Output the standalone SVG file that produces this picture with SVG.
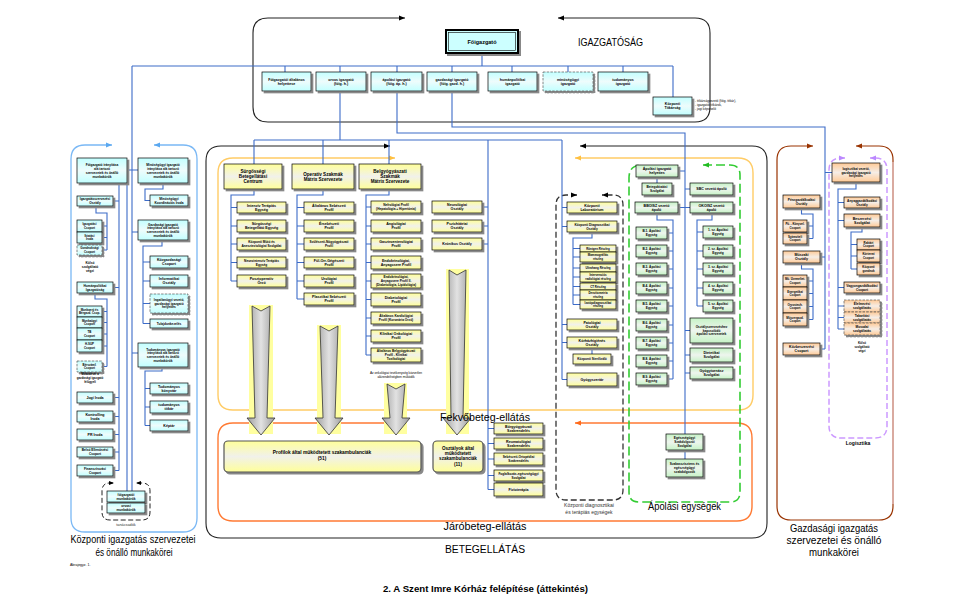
<svg xmlns="http://www.w3.org/2000/svg" width="962" height="608" viewBox="0 0 962 608">
<defs>
<linearGradient id="gc" x1="0" y1="0" x2="0" y2="1"><stop offset="0" stop-color="#c2ffff"/><stop offset=".5" stop-color="#eefcfc"/><stop offset="1" stop-color="#c2ffff"/></linearGradient>
<linearGradient id="gy" x1="0" y1="0" x2="0" y2="1"><stop offset="0" stop-color="#ffff99"/><stop offset=".5" stop-color="#f1f1ea"/><stop offset="1" stop-color="#ffff99"/></linearGradient>
<linearGradient id="gg" x1="0" y1="0" x2="0" y2="1"><stop offset="0" stop-color="#c6f3c6"/><stop offset=".5" stop-color="#eef5ee"/><stop offset="1" stop-color="#c6f3c6"/></linearGradient>
<linearGradient id="go" x1="0" y1="0" x2="0" y2="1"><stop offset="0" stop-color="#ffca96"/><stop offset=".5" stop-color="#f5ede6"/><stop offset="1" stop-color="#ffca96"/></linearGradient>
<linearGradient id="ga" x1="0" y1="0" x2="1" y2="0"><stop offset="0" stop-color="#9c9c9c"/><stop offset=".5" stop-color="#e2e2e2"/><stop offset="1" stop-color="#9c9c9c"/></linearGradient>
<filter id="ds" x="-20%" y="-20%" width="160%" height="160%"><feDropShadow dx="2" dy="2" stdDeviation="0.3" flood-color="#888" flood-opacity="1"/></filter>
<style>
.b{stroke:#000;stroke-width:.7;filter:url(#ds)}
.cy{fill:url(#gc)}.ye{fill:url(#gy)}.gr{fill:url(#gg)}.or{fill:url(#go)}
.d{stroke-dasharray:2.5 1.2;stroke:#555}
.t{font-family:"Liberation Sans",Arial,sans-serif;font-weight:700;font-size:3.6px;text-anchor:middle;fill:#000}
.s{font-size:3.2px}.xs{font-size:2.9px}
.h{font-size:4.6px}
.c{fill:none;stroke:#3d6cc8;stroke-width:1.1}
.l{font-family:"Liberation Sans",Arial,sans-serif;text-anchor:middle;fill:#000}
.band{fill:#ffffa0}
.arw{fill:url(#ga);stroke:#333;stroke-width:.8}
</style>
</defs>
<rect width="962" height="608" fill="#fff"/>

<g id="containers" fill="none">
<path d="M405,18H268Q253,18 253,33V107Q253,122 268,122H695Q710,122 710,107V33Q710,18 695,18H558" stroke="#222" stroke-width="1.1"/>
<polygon points="399,15.5 405,18 399,20.5" fill="#000"/><polygon points="564,15.5 558,18 564,20.5" fill="#000"/>
<path d="M112,145H85Q71,145 71,159V518Q71,532 85,532H183Q197,532 197,518V159Q197,145 183,145H154" stroke="#7ab8f5" stroke-width="1.3"/>
<polygon points="106,142.5 112,145 106,147.5" fill="#5aa8f0"/><polygon points="160,142.5 154,145 160,147.5" fill="#5aa8f0"/>
<path d="M113,483H110Q102,483 102,491V512Q102,520 110,520H142Q150,520 150,512V491Q150,483 142,483H137" stroke="#222" stroke-width="1" stroke-dasharray="5 2.5"/>
<polygon points="109,481 114,483 109,485" fill="#000"/><polygon points="141,481 136,483 141,485" fill="#000"/>
<path d="M390,146H221Q206,146 206,161V523Q206,538 221,538H752Q767,538 767,523V161Q767,146 752,146H580" stroke="#222" stroke-width="1.1"/>
<polygon points="384,143.5 390,146 384,148.5" fill="#000"/><polygon points="586,143.5 580,146 586,148.5" fill="#000"/>
<path d="M395,158H233Q218,158 218,173V395Q218,410 233,410H738Q753,410 753,395V173Q753,158 738,158H575" stroke="#ffcc66" stroke-width="1.4"/>
<polygon points="389,155.5 395,158 389,160.5" fill="#ffc040"/><polygon points="581,155.5 575,158 581,160.5" fill="#ffc040"/>
<path d="M395,423H233Q218,423 218,438V506Q218,521 233,521H737Q752,521 752,506V438Q752,423 737,423H575" stroke="#ff7a33" stroke-width="1.4"/>
<polygon points="581,420.5 575,423 581,425.5" fill="#ff6a1a"/>
<path d="M577,195H566Q556,195 556,205V490Q556,500 566,500H613Q623,500 623,490V205Q623,195 613,195H602" stroke="#333" stroke-width="1.3" stroke-dasharray="6 3"/>
<polygon points="571,192.5 577,195 571,197.5" fill="#000"/><polygon points="608,192.5 602,195 608,197.5" fill="#000"/>
<path d="M703,165H730Q740,165 740,175V492Q740,502 730,502H639Q629,502 629,492V178Q629,165 642,165" stroke="#33cc33" stroke-width="1.6" stroke-dasharray="9 4"/>
<polygon points="709,162.5 703,165 709,167.5" fill="#22bb22"/>
<path d="M813,146H791Q777,146 777,160V506Q777,520 791,520H879Q893,520 893,506V160Q893,146 879,146H856" stroke="#993300" stroke-width="1.2"/>
<path d="M893,162V504" stroke="#d9aaa0" stroke-width="2"/>
<polygon points="807,143.5 813,146 807,148.5" fill="#993300"/><polygon points="862,143.5 856,146 862,148.5" fill="#993300"/>
<path d="M845,158H841Q829,158 829,170V426Q829,438 841,438H875Q887,438 887,426V170Q887,158 875,158H870" stroke="#cc99ff" stroke-width="1.5" stroke-dasharray="6 3"/>
<polygon points="839,155.5 845,158 839,160.5" fill="#bb88ff"/><polygon points="876,155.5 870,158 876,160.5" fill="#bb88ff"/>
</g>

<g id="flow-arrows">
<rect class="band" x="249" y="305" width="24" height="129"/>
<rect class="band" x="317" y="325" width="24" height="109"/>
<rect class="band" x="384" y="383" width="23" height="51"/>
<rect class="band" x="446" y="269" width="23" height="165"/>
<path class="arw" d="M252,306L261,311L270,306L267,418L275,418L261,435L247,418L255,418Z"/>
<path class="arw" d="M320,326L329,331L338,326L335,418L343,418L329,435L315,418L323,418Z"/>
<path class="arw" d="M387,384L396,389L405,384L402,418L410,418L396,435L382,418L390,418Z"/>
<path class="arw" d="M449,270L457,275L466,270L463,418L471,418L457,435L443,418L451,418Z"/>
</g>

<g id="connectors" class="c">
<path d="M132,66H673M482,53V66M285,66V72M340,66V72M397,66V72M452,66V72M512,66V72M568,66V72M623,66V72M673,66V97"/>
<path d="M340,91V140M254,140H562M254,140V164M323,140V164M389,140V164M488,140V489.5M562,140V379.5"/>
<path d="M397,91V133H685V434M452,91V127H825V349"/>
<path d="M132,66V491M127,170H138M119,183V470.5M127,183V491M113,201H119M113,287.5H119M113,397.5H119M113,416.5H119M113,434.5H119M113,452H119M113,470.5H119"/>
<path d="M96,206V213H107V250M102,226H107M102,237.5H107M102,250H107"/>
<path d="M95,293V299H107V366.5M102,311.5H107M102,322.5H107M102,334H107M102,346H107M102,366.5H107"/>
<path d="M163,183V189H145V200.5H150M132,232H138M162,240V246H143V323.5M143,262H150M143,281H150M143,303.5H150M143,323.5H150"/>
<path d="M132,353H138M162,367V371H145V425.5M145,388.5H150M145,407H150M145,425.5H150"/>
<path d="M254,189V195H231V281M231,207.5H237M231,226H237M231,244H237M231,262.5H237M231,281H237"/>
<path d="M323,189V195H297V299M297,207.5H304M297,226H304M297,244H304M297,262.5H304M297,281H304M297,299H304"/>
<path d="M389,189V195H366V355M366,207H371M366,226H371M366,244H371M366,262.5H371M366,281H371M366,299.5H371M366,318H371M366,336H371M366,355H371"/>
<path d="M482,207H488M482,226H488M482,244H488M488,428.5H494M488,443.5H494M488,459H494M488,475.5H494M488,489.5H494"/>
<path d="M562,207.5H567M562,226.5H567M562,324.5H567M562,342.5H567M562,379.5H567M592,232V238H573V304.5M573,248.5H580M573,257H580M573,268H580M573,277H580M573,286.5H580M573,295H580M573,304.5H580M592,348V354"/>
<path d="M678,171H685M657,177V183M685,189H690M678,207.5H690M657,213V220H673V379M667,233H673M667,251H673M667,269H673M667,288H673M667,306H673M667,325H673M667,343H673M667,361H673M667,379H673"/>
<path d="M712,213V220H697V306M697,232H703M697,251H703M697,269H703M697,288H703M697,306H703M685,330.5H690M685,355H690M685,373H690M685,450V459"/>
<path d="M825,172.5H832M856,182V189H838V329M838,202.5H844M838,220.5H844M838,287.5H844M838,306H844M838,317.5H844M838,329H844M862,227V232H851V269M851,244.5H857M851,256H857M851,269H857"/>
<path d="M801.5,208V214H813V238.5M807,226H813M807,238.5H813M820,257H825M801.5,263V269H813V319.5M807,281H813M807,293.5H813M807,306.5H813M807,319.5H813M820,349H825"/>
</g>

<g id="igazgatosag">
<g id="n-foigazgato"><rect x="446" y="30" width="72" height="23" fill="#ccffff" stroke="#000" stroke-width="2" filter="url(#ds)"/><rect x="448.5" y="32.5" width="67" height="18" fill="none" stroke="#000" stroke-width=".6"/><text class="t" x="482" y="43.5" style="font-size:5.5px">Főigazgató</text></g>
<g id="n-foig-helyettes"><rect class="b cy" x="262" y="72" width="49" height="19"/><text class="t"><tspan x="286.5" y="80.6">Főigazgatói általános</tspan><tspan x="286.5" y="85">helyettese</tspan></text></g>
<g id="n-orvos-ig"><rect class="b cy" x="316" y="72" width="50" height="19"/><text class="t"><tspan x="341" y="80.6">orvos igazgató</tspan><tspan x="341" y="85">(főig. h.)</tspan></text></g>
<g id="n-apolasi-ig"><rect class="b cy" x="371" y="72" width="51" height="19"/><text class="t"><tspan x="396.5" y="80.6">ápolási igazgató</tspan><tspan x="396.5" y="85">(főig. áp. h.)</tspan></text></g>
<g id="n-gazd-ig"><rect class="b cy" x="427" y="72" width="50" height="19"/><text class="t"><tspan x="452" y="80.6">gazdasági igazgató</tspan><tspan x="452" y="85">(főig. gazd. h.)</tspan></text></g>
<g id="n-human-ig"><rect class="b cy" x="488" y="72" width="49" height="19"/><text class="t"><tspan x="512.5" y="80.6">humánpolitikai</tspan><tspan x="512.5" y="85">igazgató</tspan></text></g>
<g id="n-minoseg-ig"><rect class="b cy d" x="543" y="72" width="50" height="19" stroke-width="1.2"/><text class="t"><tspan x="568" y="80.6">minőségügyi</tspan><tspan x="568" y="85">igazgató</tspan></text></g>
<g id="n-tud-ig"><rect class="b cy" x="598" y="72" width="50" height="19"/><text class="t"><tspan x="623" y="80.6">tudományos</tspan><tspan x="623" y="85">igazgató</tspan></text></g>
<g id="n-titkarsag"><rect class="b cy" x="653" y="97" width="39" height="18"/><text class="t"><tspan x="672.5" y="105">Központi</tspan><tspan x="672.5" y="109.4">Titkárság</tspan></text>
<text style="font-family:'Liberation Sans',Arial,sans-serif;font-size:3.2px"><tspan x="695" y="102">- titkárságvezető (főig. titkár),</tspan><tspan x="695" y="106">- igazgatói titkárok,</tspan><tspan x="695" y="110">- jogi képviselő</tspan></text></g>
<text class="l" x="610.5" y="46" style="font-size:10.5px" textLength="65" lengthAdjust="spacingAndGlyphs">IGAZGATÓSÁG</text>
</g>

<g id="kozponti-igazgatas">
<g id="n-foig-ala"><rect class="b cy" x="77" y="158" width="50" height="25"/><text class="t s"><tspan x="102" y="165.6">Főigazgató irányítása</tspan><tspan x="102" y="169.7">alá tartozó</tspan><tspan x="102" y="173.8">szervezetek és önálló</tspan><tspan x="102" y="177.9">munkakörök</tspan></text></g>
<g id="n-minoseg-ala"><rect class="b cy" x="138" y="158" width="50" height="25"/><text class="t s"><tspan x="163" y="165.6">Minőségügyi igazgató</tspan><tspan x="163" y="169.7">irányítása alá tartozó</tspan><tspan x="163" y="173.8">szervezetek és önálló</tspan><tspan x="163" y="177.9">munkakörök</tspan></text></g>
<g id="n-igszerv"><rect class="b cy" x="77" y="196" width="36" height="10"/><text class="t s"><tspan x="95" y="200.3">Igazgatásszervezési</tspan><tspan x="95" y="204">Osztály</tspan></text></g>
<g id="n-igcsop"><rect class="b cy" x="77" y="220" width="25" height="12"/><text class="t xs"><tspan x="89.5" y="225.3">Igazgatási</tspan><tspan x="89.5" y="228.7">Csoport</tspan></text></g>
<g id="n-iktato"><rect class="b cy" x="77" y="232" width="25" height="11"/><text class="t xs"><tspan x="89.5" y="236.8">Iktatási</tspan><tspan x="89.5" y="240.2">Iroda</tspan></text></g>
<g id="n-gondnok"><rect class="b cy d" x="77" y="245" width="25" height="10"/><text class="t xs"><tspan x="89.5" y="249.3">Gondnoksági</tspan><tspan x="89.5" y="252.7">Csoport</tspan></text></g>
<text class="t s"><tspan x="90" y="264">Külső</tspan><tspan x="90" y="268.2">szolgáltató</tspan><tspan x="90" y="272.4">végzi</tspan></text>
<g id="n-humig"><rect class="b cy" x="77" y="282" width="36" height="11"/><text class="t s"><tspan x="95" y="286.8">Humánpolitikai</tspan><tspan x="95" y="290.5">Igazgatóság</tspan></text></g>
<g id="n-munkaero"><rect class="b cy" x="77" y="306" width="25" height="11"/><text class="t xs"><tspan x="89.5" y="310.8">Munkaerő és</tspan><tspan x="89.5" y="314.2">Bérgazd. Csop.</tspan></text></g>
<g id="n-munkaugy"><rect class="b cy" x="77" y="317" width="25" height="11"/><text class="t xs"><tspan x="89.5" y="321.8">Munkaügyi</tspan><tspan x="89.5" y="325.2">Csoport</tspan></text></g>
<g id="n-tb"><rect class="b cy" x="77" y="328" width="25" height="12"/><text class="t xs"><tspan x="89.5" y="333.3">TB</tspan><tspan x="89.5" y="336.7">Csoport</tspan></text></g>
<g id="n-hsup"><rect class="b cy" x="77" y="340" width="25" height="12"/><text class="t xs"><tspan x="89.5" y="345.3">H-SUP</tspan><tspan x="89.5" y="348.7">Csoport</tspan></text></g>
<g id="n-berszam"><rect class="b cy d" x="77" y="361" width="25" height="11"/><text class="t xs"><tspan x="89.5" y="365.8">Bérszámf.</tspan><tspan x="89.5" y="369.2">Csoport</tspan></text></g>
<text class="t xs"><tspan x="90" y="375">Működését a</tspan><tspan x="90" y="379">gazdasági igazgató</tspan><tspan x="90" y="383">felügyeli</tspan></text>
<g id="n-jogi"><rect class="b cy" x="77" y="392" width="36" height="11"/><text class="t" x="95" y="398.8">Jogi Iroda</text></g>
<g id="n-kontrolling"><rect class="b cy" x="77" y="411" width="36" height="11"/><text class="t"><tspan x="95" y="415.7">Kontrolling</tspan><tspan x="95" y="419.8">Iroda</tspan></text></g>
<g id="n-pr"><rect class="b cy" x="77" y="429" width="36" height="11"/><text class="t" x="95" y="435.8">PR Iroda</text></g>
<g id="n-belso"><rect class="b cy" x="77" y="447" width="36" height="10"/><text class="t s"><tspan x="95" y="451.3">Belső Ellenőrzési</tspan><tspan x="95" y="455">Csoport</tspan></text></g>
<g id="n-finansz"><rect class="b cy" x="77" y="465" width="36" height="11"/><text class="t s"><tspan x="95" y="469.8">Finanszírozási</tspan><tspan x="95" y="473.5">Csoport</tspan></text></g>
<g id="n-munkakor1"><rect class="b cy" x="107" y="491" width="38" height="11"/><text class="t s"><tspan x="126" y="495.8">főigazgatói</tspan><tspan x="126" y="499.5">munkakörök</tspan></text></g>
<g id="n-munkakor2"><rect class="b cy" x="107" y="503" width="38" height="10"/><text class="t s"><tspan x="126" y="507.3">orvosi</tspan><tspan x="126" y="511">munkakörök</tspan></text></g>
<text class="l" x="126" y="526" style="font-size:3.8px;fill:#333">tanácsadók</text>
<g id="n-minkoord"><rect class="b cy" x="150" y="195" width="38" height="11"/><text class="t s"><tspan x="169" y="199.8">Minőségügyi</tspan><tspan x="169" y="203.5">Koordinációs Iroda</tspan></text></g>
<g id="n-gazd-ala"><rect class="b cy" x="138" y="220" width="50" height="20"/><text class="t s"><tspan x="163" y="225.6">Gazdasági igazgató</tspan><tspan x="163" y="229.3">irányítása alá tartozó</tspan><tspan x="163" y="233">szervezetek és önálló</tspan><tspan x="163" y="236.7">munkakörök</tspan></text></g>
<g id="n-kozgazd"><rect class="b cy" x="150" y="256" width="38" height="12"/><text class="t"><tspan x="169" y="261.2">Közgazdasági</tspan><tspan x="169" y="265.3">Csoport</tspan></text></g>
<g id="n-informatika"><rect class="b cy" x="150" y="275" width="38" height="12"/><text class="t"><tspan x="169" y="280.2">Informatikai</tspan><tspan x="169" y="284.3">Osztály</tspan></text></g>
<g id="n-ingatlan"><rect class="b cy d" x="150" y="294" width="38" height="19"/><text class="t s"><tspan x="169" y="300.9">Ingatlanügyi vezető,</tspan><tspan x="169" y="304.6">gazdasági igazgató</tspan><tspan x="169" y="308.3">helyettes</tspan></text></g>
<g id="n-tulajdon"><rect class="b cy" x="150" y="319" width="38" height="9"/><text class="t s" x="169" y="324.6">Tulajdonkezelés</text></g>
<g id="n-tud-ala"><rect class="b cy" x="138" y="343" width="50" height="24"/><text class="t s"><tspan x="163" y="350.6">Tudományos igazgató</tspan><tspan x="163" y="354.3">irányítása alá tartozó</tspan><tspan x="163" y="358">szervezetek és önálló</tspan><tspan x="163" y="361.7">munkakörök</tspan></text></g>
<g id="n-tudkonyv"><rect class="b cy" x="150" y="383" width="38" height="11"/><text class="t"><tspan x="169" y="387.7">Tudományos</tspan><tspan x="169" y="391.8">könyvtár</tspan></text></g>
<g id="n-tudtitkar"><rect class="b cy" x="150" y="401" width="38" height="12"/><text class="t"><tspan x="169" y="406.2">tudományos</tspan><tspan x="169" y="410.3">titkár</tspan></text></g>
<g id="n-keptar"><rect class="b cy" x="150" y="420" width="38" height="11"/><text class="t" x="169" y="426.8">Képtár</text></g>
<text class="l" x="133" y="543" style="font-size:10px" textLength="125" lengthAdjust="spacingAndGlyphs">Központi igazgatás szervezetei</text>
<text class="l" x="134" y="556" style="font-size:10px" textLength="77" lengthAdjust="spacingAndGlyphs">és önálló munkakörei</text>
<text x="70" y="566" style="font-family:'Liberation Sans',Arial,sans-serif;font-size:3.5px">Ábrajegyz. 1.</text>
</g>

<g id="betegellatas">
<g id="n-surgossegi"><rect class="b ye" x="224" y="164" width="58" height="25"/><text class="t h"><tspan x="253" y="172.8">Sürgősségi</tspan><tspan x="253" y="178.1">Betegellátási</tspan><tspan x="253" y="183.4">Centrum</tspan></text></g>
<g id="n-intenziv"><rect class="b ye" x="237" y="202" width="49" height="11"/><text class="t"><tspan x="261.5" y="206.7">Intenzív Terápiás</tspan><tspan x="261.5" y="210.8">Egység</tspan></text></g>
<g id="n-sbe"><rect class="b ye" x="237" y="220" width="49" height="12"/><text class="t"><tspan x="261.5" y="225.2">Sürgősségi</tspan><tspan x="261.5" y="229.3">Betegellátó Egység</tspan></text></g>
<g id="n-muto"><rect class="b ye" x="237" y="238" width="49" height="12"/><text class="t s"><tspan x="261.5" y="243.3">Központi Műtő és</tspan><tspan x="261.5" y="247">Aneszteziológiai Szolgálat</tspan></text></g>
<g id="n-neurointenziv"><rect class="b ye" x="237" y="257" width="49" height="11"/><text class="t s"><tspan x="261.5" y="261.8">Neurointenzív Terápiás</tspan><tspan x="261.5" y="265.5">Egység</tspan></text></g>
<g id="n-posztop"><rect class="b ye" x="237" y="275" width="49" height="12"/><text class="t"><tspan x="261.5" y="280.2">Posztoperatív</tspan><tspan x="261.5" y="284.3">Őrző</tspan></text></g>

<g id="n-operativ"><rect class="b ye" x="292" y="164" width="62" height="25"/><text class="t h"><tspan x="323" y="175.5">Operatív Szakmák</tspan><tspan x="323" y="180.8">Mátrix Szervezete</tspan></text></g>
<g id="n-altseb"><rect class="b ye" x="304" y="202" width="50" height="11"/><text class="t"><tspan x="329" y="206.7">Általános Sebészeti</tspan><tspan x="329" y="210.8">Profil</tspan></text></g>
<g id="n-erseb"><rect class="b ye" x="304" y="220" width="50" height="12"/><text class="t"><tspan x="329" y="225.2">Érsebészeti</tspan><tspan x="329" y="229.3">Profil</tspan></text></g>
<g id="n-szules"><rect class="b ye" x="304" y="238" width="50" height="12"/><text class="t s"><tspan x="329" y="243.3">Szülészeti-Nőgyógyászati</tspan><tspan x="329" y="247">Profil</tspan></text></g>
<g id="n-fog"><rect class="b ye" x="304" y="257" width="50" height="11"/><text class="t"><tspan x="329" y="261.7">Fül-Orr-Gégészeti</tspan><tspan x="329" y="265.8">Profil</tspan></text></g>
<g id="n-urologia"><rect class="b ye" x="304" y="275" width="50" height="12"/><text class="t"><tspan x="329" y="280.2">Urológiai</tspan><tspan x="329" y="284.3">Profil</tspan></text></g>
<g id="n-plasztikai"><rect class="b ye" x="304" y="293" width="50" height="12"/><text class="t"><tspan x="329" y="298.2">Plasztikai Sebészeti</tspan><tspan x="329" y="302.3">Profil</tspan></text></g>

<g id="n-belgyogy"><rect class="b ye" x="359" y="164" width="62" height="25"/><text class="t h"><tspan x="390" y="172.8">Belgyógyászati</tspan><tspan x="390" y="178.1">Szakmák</tspan><tspan x="390" y="183.4">Mátrix Szervezete</tspan></text></g>
<g id="n-nefro"><rect class="b ye" x="371" y="201" width="50" height="12"/><text class="t s"><tspan x="396" y="206.3">Nefrológiai Profil</tspan><tspan x="396" y="210">(Hepatológia + Hipertónia)</tspan></text></g>
<g id="n-angio"><rect class="b ye" x="371" y="220" width="50" height="12"/><text class="t"><tspan x="396" y="225.2">Angiológiai</tspan><tspan x="396" y="229.3">Profil</tspan></text></g>
<g id="n-gasztro"><rect class="b ye" x="371" y="238" width="50" height="12"/><text class="t"><tspan x="396" y="243.2">Gasztroenterológiai</tspan><tspan x="396" y="247.3">Profil</tspan></text></g>
<g id="n-endo1"><rect class="b ye" x="371" y="256" width="50" height="13"/><text class="t"><tspan x="396" y="261.7">Endokrinológiai,</tspan><tspan x="396" y="265.8">Anyagcsere Profil</tspan></text></g>
<g id="n-endo2"><rect class="b ye" x="371" y="274" width="50" height="14"/><text class="t s"><tspan x="396" y="278.4">Endokrinológiai,</tspan><tspan x="396" y="282.1">Anyagcsere Profil II.</tspan><tspan x="396" y="285.8">(Diabetológia, Lipidológia)</tspan></text></g>
<g id="n-diab"><rect class="b ye" x="371" y="293" width="50" height="13"/><text class="t"><tspan x="396" y="298.7">Diabetológiai</tspan><tspan x="396" y="302.8">Profil</tspan></text></g>
<g id="n-kardio"><rect class="b ye" x="371" y="312" width="50" height="12"/><text class="t s"><tspan x="396" y="317.3">Általános Kardiológiai</tspan><tspan x="396" y="321">Profil (Koronária Őrző)</tspan></text></g>
<g id="n-onko"><rect class="b ye" x="371" y="330" width="50" height="12"/><text class="t"><tspan x="396" y="335.2">Klinikai Onkológiai</tspan><tspan x="396" y="339.3">Profil</tspan></text></g>
<g id="n-altbel"><rect class="b ye" x="371" y="348" width="50" height="14"/><text class="t s"><tspan x="396" y="352.4">Általános Belgyógyászati</tspan><tspan x="396" y="356.1">Profil - Klinikai</tspan><tspan x="396" y="359.8">Toxikológiai</tspan></text></g>
<text class="l" style="font-size:3.2px"><tspan x="396" y="374">Az onkológiai tevékenység közvetlen</tspan><tspan x="396" y="378.2">alárendeltségben működik</tspan></text>

<g id="n-neuro"><rect class="b ye" x="432" y="201" width="50" height="12"/><text class="t"><tspan x="457" y="206.2">Neurológiai</tspan><tspan x="457" y="210.3">Osztály</tspan></text></g>
<g id="n-pszich"><rect class="b ye" x="432" y="220" width="50" height="12"/><text class="t"><tspan x="457" y="225.2">Pszichiátriai</tspan><tspan x="457" y="229.3">Osztály</tspan></text></g>
<g id="n-kronikus"><rect class="b ye" x="432" y="238" width="50" height="12"/><text class="t" x="457" y="245.3">Krónikus Osztály</text></g>

<g id="n-profilok-amb"><rect x="224" y="441" width="197" height="31" rx="4" fill="url(#gy)" stroke="#555" stroke-width="1.2" filter="url(#ds)"/><text class="t" style="font-size:4.8px"><tspan x="322" y="454">Profilok által működtetett szakambulanciák</tspan><tspan x="322" y="460">(51)</tspan></text></g>
<g id="n-osztalyok-amb"><rect x="433" y="441" width="50" height="31" rx="4" fill="url(#gy)" stroke="#555" stroke-width="1.2" filter="url(#ds)"/><text class="t" style="font-size:4.6px"><tspan x="458" y="449.5">Osztályok által</tspan><tspan x="458" y="454.9">működtetett</tspan><tspan x="458" y="460.3">szakambulanciák</tspan><tspan x="458" y="465.7">(11)</tspan></text></g>

<g id="n-borgy"><rect class="b ye" x="494" y="423" width="49" height="11"/><text class="t"><tspan x="518.5" y="427.7">Bőrgyógyászati</tspan><tspan x="518.5" y="431.8">Szakrendelés</tspan></text></g>
<g id="n-reuma"><rect class="b ye" x="494" y="438" width="49" height="11"/><text class="t"><tspan x="518.5" y="442.7">Reumatológiai</tspan><tspan x="518.5" y="446.8">Szakrendelés</tspan></text></g>
<g id="n-sebort"><rect class="b ye" x="494" y="453" width="49" height="12"/><text class="t s"><tspan x="518.5" y="458.3">Sebészeti-Ortopédiai</tspan><tspan x="518.5" y="462">Szakrendelés</tspan></text></g>
<g id="n-foglalk"><rect class="b ye" x="494" y="470" width="49" height="11"/><text class="t s"><tspan x="518.5" y="474.8">Foglalkozás-egészségügyi</tspan><tspan x="518.5" y="478.5">Szolgálat</tspan></text></g>
<g id="n-fizio"><rect class="b ye" x="494" y="483" width="49" height="13"/><text class="t" x="518.5" y="490.8">Fizioterápia</text></g>

<g id="n-labor"><rect class="b ye" x="567" y="202" width="50" height="11"/><text class="t"><tspan x="592" y="206.7">Központi</tspan><tspan x="592" y="210.8">Laboratórium</tspan></text></g>
<g id="n-diag"><rect class="b ye" x="567" y="221" width="50" height="11"/><text class="t s"><tspan x="592" y="225.8">Központi Diagnosztikai</tspan><tspan x="592" y="229.5">Osztály</tspan></text></g>
<g id="n-rtg"><rect class="b ye" x="580" y="245" width="36" height="7"/><text class="t xs" x="598" y="249.5">Röntgen Részleg</text></g>
<g id="n-mammo"><rect class="b ye" x="580" y="252" width="36" height="10"/><text class="t xs"><tspan x="598" y="256.3">Mammográfiás</tspan><tspan x="598" y="259.7">részleg</tspan></text></g>
<g id="n-uh"><rect class="b ye" x="580" y="264" width="36" height="8"/><text class="t xs" x="598" y="269">Ultrahang Részleg</text></g>
<g id="n-interv"><rect class="b ye" x="580" y="272" width="36" height="10"/><text class="t xs"><tspan x="598" y="276.3">Intervenciós</tspan><tspan x="598" y="279.7">radiológiai részleg</tspan></text></g>
<g id="n-ct"><rect class="b ye" x="580" y="283" width="36" height="7"/><text class="t xs" x="598" y="287.5">CT Részleg</text></g>
<g id="n-denz"><rect class="b ye" x="580" y="290" width="36" height="10"/><text class="t xs"><tspan x="598" y="294.3">Denzitometria</tspan><tspan x="598" y="297.7">részleg</tspan></text></g>
<g id="n-izotop"><rect class="b ye" x="580" y="300" width="36" height="9"/><text class="t xs"><tspan x="598" y="303.8">Izotópdiagnosztikai</tspan><tspan x="598" y="307.2">részleg</tspan></text></g>
<g id="n-patologia"><rect class="b ye" x="567" y="319" width="50" height="11"/><text class="t"><tspan x="592" y="323.7">Patológiai</tspan><tspan x="592" y="327.8">Osztály</tspan></text></g>
<g id="n-higienes"><rect class="b ye" x="567" y="337" width="50" height="11"/><text class="t"><tspan x="592" y="341.7">Kórházhigiénés</tspan><tspan x="592" y="345.8">Osztály</tspan></text></g>
<g id="n-steril"><rect class="b ye" x="573" y="354" width="38" height="10"/><text class="t s" x="592" y="360.1">Központi Sterilizáló</text></g>
<g id="n-gyogyszertar"><rect class="b ye" x="567" y="373" width="50" height="13"/><text class="t" x="592" y="380.8">Gyógyszertár</text></g>
<text class="l" style="font-size:5px;fill:#333"><tspan x="589" y="507">Központi diagnosztikai</tspan><tspan x="589" y="514">és terápiás egységek</tspan></text>

<g id="n-ap-helyettes"><rect class="b gr" x="636" y="165" width="42" height="12"/><text class="t"><tspan x="657" y="170.2">Ápolási igazgató</tspan><tspan x="657" y="174.3">helyettes</tspan></text></g>
<g id="n-betegokt"><rect class="b gr" x="642" y="183" width="30" height="12"/><text class="t s"><tspan x="657" y="188.3">Betegoktatási</tspan><tspan x="657" y="192">Szolgálat</tspan></text></g>
<g id="n-sbc"><rect class="b gr" x="690" y="183" width="43" height="12"/><text class="t" x="711.5" y="190.3">SBC vezető ápoló</text></g>
<g id="n-bboisz"><rect class="b gr" x="635" y="202" width="43" height="11"/><text class="t"><tspan x="656.5" y="206.7">BBOISZ vezető</tspan><tspan x="656.5" y="210.8">ápoló</tspan></text></g>
<g id="n-okoisz"><rect class="b gr" x="690" y="202" width="43" height="11"/><text class="t"><tspan x="711.5" y="206.7">OKOISZ vezető</tspan><tspan x="711.5" y="210.8">ápoló</tspan></text></g>
<g id="n-b1"><rect class="b gr" x="636" y="227" width="31" height="12"/><text class="t s"><tspan x="651.5" y="232.3">B.1. Ápolási</tspan><tspan x="651.5" y="236">Egység</tspan></text></g>
<g id="n-b2"><rect class="b gr" x="636" y="245" width="31" height="12"/><text class="t s"><tspan x="651.5" y="250.3">B.2. Ápolási</tspan><tspan x="651.5" y="254">Egység</tspan></text></g>
<g id="n-b3"><rect class="b gr" x="636" y="263" width="31" height="12"/><text class="t s"><tspan x="651.5" y="268.3">B.3. Ápolási</tspan><tspan x="651.5" y="272">Egység</tspan></text></g>
<g id="n-b4"><rect class="b gr" x="636" y="282" width="31" height="12"/><text class="t s"><tspan x="651.5" y="287.3">B.4. Ápolási</tspan><tspan x="651.5" y="291">Egység</tspan></text></g>
<g id="n-b5"><rect class="b gr" x="636" y="300" width="31" height="12"/><text class="t s"><tspan x="651.5" y="305.3">B.5. Ápolási</tspan><tspan x="651.5" y="309">Egység</tspan></text></g>
<g id="n-b6"><rect class="b gr" x="636" y="319" width="31" height="12"/><text class="t s"><tspan x="651.5" y="324.3">B.6. Ápolási</tspan><tspan x="651.5" y="328">Egység</tspan></text></g>
<g id="n-b7"><rect class="b gr" x="636" y="337" width="31" height="12"/><text class="t s"><tspan x="651.5" y="342.3">B.7. Ápolási</tspan><tspan x="651.5" y="346">Egység</tspan></text></g>
<g id="n-b8"><rect class="b gr" x="636" y="355" width="31" height="12"/><text class="t s"><tspan x="651.5" y="360.3">B.8. Ápolási</tspan><tspan x="651.5" y="364">Egység</tspan></text></g>
<g id="n-b9"><rect class="b gr" x="636" y="373" width="31" height="12"/><text class="t s"><tspan x="651.5" y="378.3">B.9. Ápolási</tspan><tspan x="651.5" y="382">Egység</tspan></text></g>
<g id="n-sz1"><rect class="b gr" x="703" y="226" width="30" height="12"/><text class="t s"><tspan x="718" y="231.3">1. sz. Ápolási</tspan><tspan x="718" y="235">Egység</tspan></text></g>
<g id="n-sz2"><rect class="b gr" x="703" y="245" width="30" height="12"/><text class="t s"><tspan x="718" y="250.3">2. sz. Ápolási</tspan><tspan x="718" y="254">Egység</tspan></text></g>
<g id="n-sz3"><rect class="b gr" x="703" y="263" width="30" height="12"/><text class="t s"><tspan x="718" y="268.3">3. sz. Ápolási</tspan><tspan x="718" y="272">Egység</tspan></text></g>
<g id="n-sz4"><rect class="b gr" x="703" y="282" width="30" height="12"/><text class="t s"><tspan x="718" y="287.3">4. sz. Ápolási</tspan><tspan x="718" y="291">Egység</tspan></text></g>
<g id="n-sz5"><rect class="b gr" x="703" y="300" width="30" height="12"/><text class="t s"><tspan x="718" y="305.3">5. sz. Ápolási</tspan><tspan x="718" y="309">Egység</tspan></text></g>
<g id="n-osztszerv"><rect class="b gr" x="690" y="318" width="43" height="25"/><text class="t s"><tspan x="711.5" y="327.9">Osztályszervezéshez</tspan><tspan x="711.5" y="331.6">kapcsolódó</tspan><tspan x="711.5" y="335.3">ápolási szervezetek</tspan></text></g>
<g id="n-dietetika"><rect class="b gr" x="690" y="348" width="43" height="14"/><text class="t"><tspan x="711.5" y="354.2">Dietetikai</tspan><tspan x="711.5" y="358.3">Szolgálat</tspan></text></g>
<g id="n-gyogytorna"><rect class="b gr" x="690" y="367" width="43" height="12"/><text class="t"><tspan x="711.5" y="372.2">Gyógytornász</tspan><tspan x="711.5" y="376.3">Szolgálat</tspan></text></g>
<g id="n-eu-szakdolg"><rect class="b gr" x="666" y="434" width="37" height="16"/><text class="t s"><tspan x="684.5" y="439.4">Egészségügyi</tspan><tspan x="684.5" y="443.1">Szakdolgozói</tspan><tspan x="684.5" y="446.8">Szolgálat</tspan></text></g>
<g id="n-szakasszisztens"><rect class="b gr" x="666" y="459" width="37" height="18"/><text class="t s"><tspan x="684.5" y="465.4">Szakasszisztens és</tspan><tspan x="684.5" y="469.1">egészségügyi</tspan><tspan x="684.5" y="472.8">szakdolgozók</tspan></text></g>
<text class="l" x="684.5" y="510" style="font-size:10px" textLength="73" lengthAdjust="spacingAndGlyphs">Ápolási egységek</text>

<text class="l" x="485" y="421" style="font-size:10.5px" textLength="90" lengthAdjust="spacingAndGlyphs">Fekvőbeteg-ellátás</text>
<text class="l" x="485" y="530" style="font-size:10px" textLength="83" lengthAdjust="spacingAndGlyphs">Járóbeteg-ellátás</text>
<text class="l" x="485" y="553" style="font-size:10px" textLength="80" lengthAdjust="spacingAndGlyphs">BETEGELLÁTÁS</text>
</g>

<g id="gazdasagi">
<g id="n-logisztikai"><rect class="b or" x="832" y="163" width="48" height="19"/><text class="t s"><tspan x="856" y="169.9">logisztikai vezető,</tspan><tspan x="856" y="173.6">gazdasági igazgató</tspan><tspan x="856" y="177.3">helyettes</tspan></text></g>
<g id="n-anyaggazd"><rect class="b or" x="844" y="197" width="36" height="11"/><text class="t s"><tspan x="862" y="201.8">Anyaggazdálkodási</tspan><tspan x="862" y="205.5">Osztály</tspan></text></g>
<g id="n-beszerzes"><rect class="b or" x="844" y="214" width="36" height="13"/><text class="t"><tspan x="862" y="219.7">Beszerzési</tspan><tspan x="862" y="223.8">Szolgálat</tspan></text></g>
<g id="n-raktar"><rect class="b or" x="857" y="239" width="23" height="11"/><text class="t xs"><tspan x="868.5" y="243.8">Raktári</tspan><tspan x="868.5" y="247.2">Csoport</tspan></text></g>
<g id="n-kortermi"><rect class="b or" x="857" y="250" width="23" height="12"/><text class="t xs"><tspan x="868.5" y="255.3">Kórtermi</tspan><tspan x="868.5" y="258.7">Csoport</tspan></text></g>
<g id="n-kpgondnok"><rect class="b or" x="857" y="263" width="23" height="12"/><text class="t xs"><tspan x="868.5" y="268.3">Központi</tspan><tspan x="868.5" y="271.7">gondnok</tspan></text></g>
<g id="n-vagyon"><rect class="b or" x="844" y="282" width="36" height="11"/><text class="t s"><tspan x="862" y="286.8">Vagyongazdálkodási</tspan><tspan x="862" y="290.5">Csoport</tspan></text></g>
<g id="n-elelmezes"><rect class="b or d" x="844" y="300" width="36" height="12"/><text class="t s"><tspan x="862" y="305.3">Élelmezési</tspan><tspan x="862" y="309">szolgáltatás</tspan></text></g>
<g id="n-takaritas"><rect class="b or d" x="844" y="312" width="36" height="11"/><text class="t s"><tspan x="862" y="316.8">Takarítási</tspan><tspan x="862" y="320.5">szolgáltatás</tspan></text></g>
<g id="n-mosoda"><rect class="b or d" x="844" y="323" width="36" height="12"/><text class="t s"><tspan x="862" y="328.3">Mosodai</tspan><tspan x="862" y="332">szolgáltatás</tspan></text></g>
<text class="t xs"><tspan x="862" y="344">Külső</tspan><tspan x="862" y="348">szolgáltató</tspan><tspan x="862" y="352">végzi</tspan></text>
<g id="n-penzgazd"><rect class="b or" x="783" y="195" width="37" height="13"/><text class="t s"><tspan x="801.5" y="200.8">Pénzgazdálkodási</tspan><tspan x="801.5" y="204.5">Osztály</tspan></text></g>
<g id="n-konyvel"><rect class="b or" x="783" y="220" width="24" height="12"/><text class="t xs"><tspan x="795" y="225.3">Pü. - Könyvel.</tspan><tspan x="795" y="228.7">Csoport</tspan></text></g>
<g id="n-szamviteli"><rect class="b or" x="783" y="233" width="24" height="11"/><text class="t xs"><tspan x="795" y="237.8">Számviteli</tspan><tspan x="795" y="241.2">Csoport</tspan></text></g>
<g id="n-muszaki"><rect class="b or" x="783" y="251" width="37" height="12"/><text class="t"><tspan x="801.5" y="256.2">Műszaki</tspan><tspan x="801.5" y="260.3">Osztály</tspan></text></g>
<g id="n-uzemelt"><rect class="b or" x="783" y="275" width="24" height="12"/><text class="t xs"><tspan x="795" y="280.3">Mű. Üzemeltet.</tspan><tspan x="795" y="283.7">Csoport</tspan></text></g>
<g id="n-energetika"><rect class="b or" x="783" y="287" width="24" height="13"/><text class="t xs"><tspan x="795" y="292.8">Energetikai</tspan><tspan x="795" y="296.2">Csoport</tspan></text></g>
<g id="n-orvostech"><rect class="b or" x="783" y="300" width="24" height="13"/><text class="t xs"><tspan x="795" y="305.8">Orvostech.</tspan><tspan x="795" y="309.2">Csoport</tspan></text></g>
<g id="n-muszergazd"><rect class="b or" x="783" y="313" width="24" height="13"/><text class="t xs"><tspan x="795" y="318.8">Műszergazd.</tspan><tspan x="795" y="322.2">Csoport</tspan></text></g>
<g id="n-kozbeszerzes"><rect class="b or" x="783" y="343" width="37" height="12"/><text class="t"><tspan x="801.5" y="348.2">Közbeszerzési</tspan><tspan x="801.5" y="352.3">Csoport</tspan></text></g>
<text class="t" x="858" y="445" style="font-size:5px">Logisztika</text>
<text class="l" x="834" y="532" style="font-size:10px" textLength="88" lengthAdjust="spacingAndGlyphs">Gazdasági igazgatás</text>
<text class="l" x="834" y="544" style="font-size:10px" textLength="95" lengthAdjust="spacingAndGlyphs">szervezetei és önálló</text>
<text class="l" x="834" y="556" style="font-size:10px" textLength="50" lengthAdjust="spacingAndGlyphs">munkakörei</text>
</g>

<text class="l" x="485.5" y="592" style="font-size:9px;font-weight:700" textLength="205" lengthAdjust="spacingAndGlyphs">2. A Szent Imre Kórház felépítése (áttekintés)</text>
</svg>
